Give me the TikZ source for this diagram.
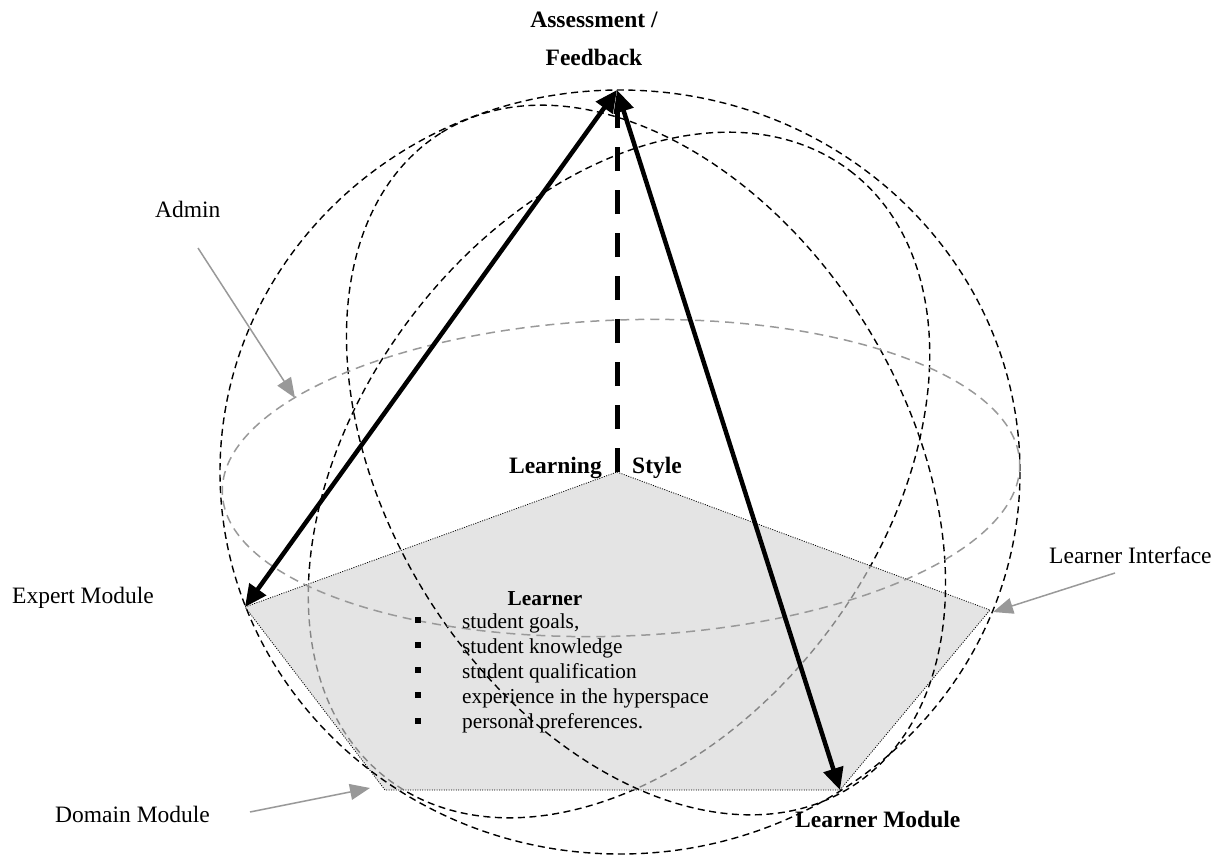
\documentclass[tikz,border=0pt]{standalone}
\usepackage{fontspec}
\setmainfont{Liberation Serif}
\usetikzlibrary{arrows.meta}
\begin{document}
\begin{tikzpicture}[x=1pt,y=-1pt,
  sphere/.style={black, line width=1.4pt, dash pattern=on 7pt off 4.5pt},
  ring/.style={black!40, line width=1.5pt, dash pattern=on 9pt off 6pt},
  bigarrow/.style={black, line width=4.5pt, {Triangle[length=22pt,width=20pt]}-{Triangle[length=22pt,width=20pt]}},
  stylebar/.style={black, line width=5pt, dash pattern=on 24pt off 19pt},
  ptr/.style={black!40, line width=1.5pt, -{Triangle[length=20pt,width=16pt]}},
  lbl/.style={inner sep=0pt, font=\fontsize{23.5}{28}\selectfont},
  blbl/.style={inner sep=0pt, font=\fontsize{23.5}{28}\selectfont\bfseries},
  item/.style={inner sep=0pt, anchor=base west, font=\fontsize{21.3}{25}\selectfont},
  bullet/.style={fill=black, minimum size=6pt, inner sep=0pt},
]
\useasboundingbox (0,0) rectangle (1223,857);

% key points
\coordinate (apex) at (617,90);
\coordinate (ptop) at (617,472);
\coordinate (pright) at (990,610);
\coordinate (pbr) at (840,790);
\coordinate (pbl) at (385,790);
\coordinate (pleft) at (245,607);

% tilted sphere circle drawn beneath the pentagon
\draw[sphere, rotate around={52.8:(619,475)}] (619,475) ellipse [x radius=382, y radius=261];

% pentagon (learner plane)
\fill[black!17, fill opacity=0.63] (ptop) -- (pright) -- (pbr) -- (pbl) -- (pleft) -- cycle;
\draw[black, line width=0.8pt, dash pattern=on 1pt off 1.4pt] (ptop) -- (pright) -- (pbr) -- (pbl) -- (pleft) -- cycle;

% other circles
\draw[sphere] (620,472) ellipse [x radius=400, y radius=382];
\draw[sphere, rotate around={122:(646,460)}] (646,460) ellipse [x radius=386, y radius=258];
\draw[ring, rotate around={2.2:(621,478)}] (621,478) ellipse [x radius=399, y radius=158];

% learning style axis
\draw[stylebar] (ptop) -- (617,98);

% main arrows
\draw[bigarrow] (pleft) -- (apex);
\draw[bigarrow] (pbr) -- (apex);

% labels
\node[blbl, anchor=base] (assess) at (594,27) {Assessment /};
\node[blbl, anchor=base] (feedback) at (594,65) {Feedback};
\node[lbl, anchor=base west] (admin) at (155,217) {Admin};
\node[lbl, anchor=base west] (expert) at (12,603) {Expert Module};
\node[lbl, anchor=base west] (domain) at (55,822) {Domain Module};
\node[lbl, anchor=base west] (interface) at (1049,563) {Learner Interface};
\node[blbl, anchor=base west] (lmodule) at (795,827) {Learner Module};
\node[blbl, anchor=base east] (learning) at (602,473) {Learning};
\node[blbl, anchor=base west] (style) at (632,473) {Style};

% learner box
\node[inner sep=0pt, anchor=base, font=\fontsize{21.3}{25}\selectfont\bfseries] (learner) at (545,605) {Learner};
\node[item] (i1) at (462,628) {student goals,};
\node[item] (i2) at (462,653) {student knowledge};
\node[item] (i3) at (462,678) {student qualification};
\node[item] (i4) at (462,703) {experience in the hyperspace};
\node[item] (i5) at (462,728) {personal preferences.};
\node[bullet] (b1) at (418,620) {};
\node[bullet] (b2) at (418,645) {};
\node[bullet] (b3) at (418,670) {};
\node[bullet] (b4) at (418,695) {};
\node[bullet] (b5) at (418,721) {};

% pointer arrows
\coordinate (admintail) at (198,248);
\coordinate (adminhead) at (295,398);
\coordinate (iftail) at (1115,573);
\coordinate (ifhead) at (993,612);
\coordinate (domtail) at (250,812);
\coordinate (domhead) at (370,788);
\draw[ptr] (admintail) -- (adminhead);
\draw[ptr] (iftail) -- (ifhead);
\draw[ptr] (domtail) -- (domhead);
\end{tikzpicture}
\end{document}
